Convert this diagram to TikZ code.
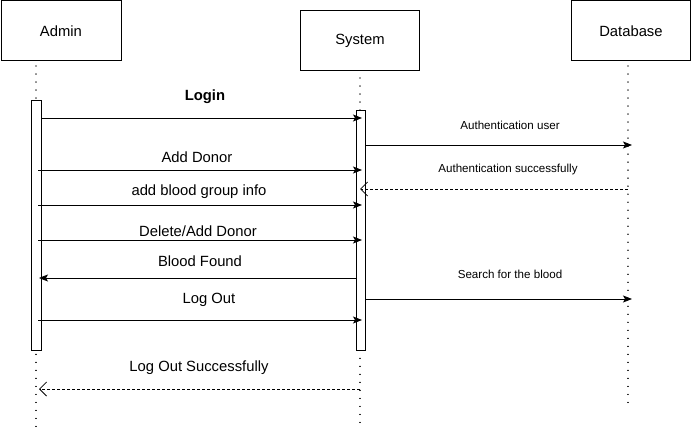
\documentclass[tikz,border=0pt]{standalone}
\usepackage{fontspec}
\setmainfont{Liberation Sans}
\usetikzlibrary{arrows.meta}
\begin{document}
\begin{tikzpicture}[x=1pt,y=-1pt,
  actor/.style={draw,line width=0.9pt,minimum width=#1,anchor=north west,inner sep=0pt,font=\fontsize{14.8}{17}\selectfont},
  act/.style={draw,line width=0.9pt,fill=white},
  life/.style={line width=1.3pt,dash pattern=on 0.01pt off 8pt,line cap=round},
  msg/.style={line width=0.8pt,-{Stealth[length=9pt,width=7pt,inset=2pt]}},
  rep/.style={line width=0.8pt,dash pattern=on 3pt off 2pt,-{Straight Barb[length=7pt,width=14pt,line width=0.8pt]}},
  lbl/.style={font=\fontsize{14.8}{17}\selectfont,inner sep=1pt},
  slbl/.style={font=\fontsize{11.6}{13}\selectfont,inner sep=1pt}]
\useasboundingbox (0,0) rectangle (691,433);
% actors
\node[actor=120pt,minimum height=60pt] (admin) at (0.5,0.5) {Admin};
\node[actor=119pt,minimum height=60pt] (sys) at (300,10) {System};
\node[actor=119pt,minimum height=60pt] (db) at (571,0.5) {Database};
% lifelines
\coordinate (aTop) at (36,66);
\coordinate (aBot) at (36,430);
\coordinate (sTop) at (360,78);
\coordinate (sBot) at (360,430);
\coordinate (dTop) at (628,66);
\coordinate (dBot) at (628,410);
\draw[life] (aTop) -- (aBot);
\draw[life] (sTop) -- (sBot);
\draw[life] (dTop) -- (dBot);
% activations
\draw[act] (31,100) rectangle (41,350);
\draw[act] (356,110) rectangle (365,350);
% message points
\coordinate (m1a) at (41,118);  \coordinate (m1b) at (362,118);
\coordinate (m2a) at (365,145); \coordinate (m2b) at (632,145);
\coordinate (m3a) at (628,189); \coordinate (m3b) at (360,189);
\coordinate (m4a) at (38,170);  \coordinate (m4b) at (362,170);
\coordinate (m5a) at (38,205);  \coordinate (m5b) at (362,205);
\coordinate (m6a) at (38,240);  \coordinate (m6b) at (362,240);
\coordinate (m7a) at (356,278); \coordinate (m7b) at (39,278);
\coordinate (m8a) at (365,299); \coordinate (m8b) at (632,299);
\coordinate (m9a) at (38,320);  \coordinate (m9b) at (362,320);
\coordinate (m10a) at (360,389); \coordinate (m10b) at (39,389);
\draw[msg] (m1a) -- (m1b);
\draw[msg] (m2a) -- (m2b);
\draw[rep] (m3a) -- (m3b);
\draw[msg] (m4a) -- (m4b);
\draw[msg] (m5a) -- (m5b);
\draw[msg] (m6a) -- (m6b);
\draw[msg] (m7a) -- (m7b);
\draw[msg] (m8a) -- (m8b);
\draw[msg] (m9a) -- (m9b);
\draw[rep] (m10a) -- (m10b);
% labels
\node[lbl,font=\fontsize{14.8}{17}\selectfont\bfseries] (l1) at (205,97) {Login};
\node[slbl] (l2) at (510,125) {Authentication user};
\node[slbl] (l3) at (508,170) {Authentication successfully};
\node[lbl] (l4) at (197,157) {Add Donor};
\node[lbl] (l5) at (199,192) {add blood group info};
\node[lbl] (l6) at (198,231) {Delete/Add Donor};
\node[lbl] (l7) at (200,261) {Blood Found};
\node[slbl] (l8) at (510,274) {Search for the blood};
\node[lbl] (l9) at (209,300) {Log Out};
\node[lbl] (l10) at (199,368) {Log Out Successfully};
\end{tikzpicture}
\end{document}
